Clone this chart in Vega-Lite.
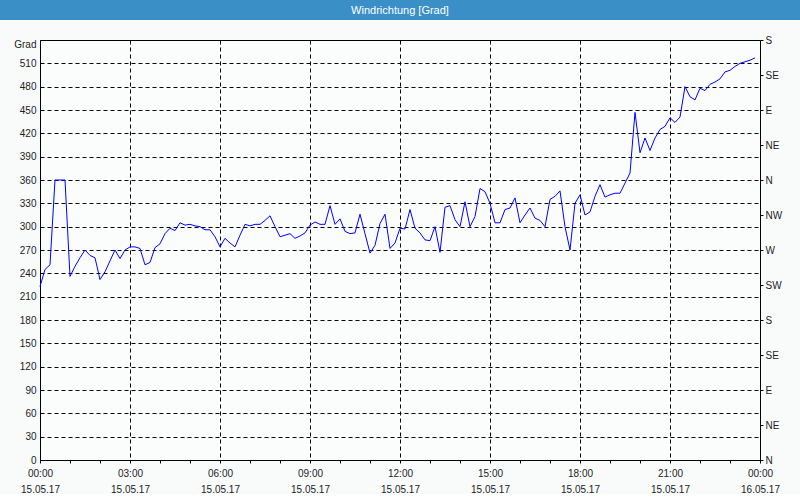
{
  "$schema": "https://vega.github.io/schema/vega-lite/v6.json",
  "padding": 0,
  "background": "#f8fbf9",
  "width": 720,
  "height": 420,
  "title": {
    "text": "Windrichtung [Grad]",
    "color": "#ffffff",
    "font": "Liberation Sans",
    "fontSize": 11,
    "fontWeight": "normal",
    "anchor": "middle",
    "frame": "group",
    "zindex": 1,
    "offset": 16,
    "dy": 32
  },
  "config": {
    "font": "Liberation Sans",
    "view": {"fill": "#fbfdfc", "stroke": "#000000", "strokeWidth": 1},
    "axis": {"labelFont": "Liberation Sans", "labelFontSize": 10, "labelColor": "#1c1c28", "titleFont": "Liberation Sans"}
  },
  "data": {"values": [
    {"t": "2017-05-15T00:00:00Z", "v": 223}, {"t": "2017-05-15T00:10:00Z", "v": 245}, {"t": "2017-05-15T00:20:00Z", "v": 251},
    {"t": "2017-05-15T00:30:00Z", "v": 360}, {"t": "2017-05-15T00:40:00Z", "v": 360}, {"t": "2017-05-15T00:50:00Z", "v": 360},
    {"t": "2017-05-15T01:00:00Z", "v": 236}, {"t": "2017-05-15T01:10:00Z", "v": 249}, {"t": "2017-05-15T01:20:00Z", "v": 260},
    {"t": "2017-05-15T01:30:00Z", "v": 270}, {"t": "2017-05-15T01:40:00Z", "v": 263}, {"t": "2017-05-15T01:50:00Z", "v": 260},
    {"t": "2017-05-15T02:00:00Z", "v": 232}, {"t": "2017-05-15T02:10:00Z", "v": 242}, {"t": "2017-05-15T02:20:00Z", "v": 256},
    {"t": "2017-05-15T02:30:00Z", "v": 270}, {"t": "2017-05-15T02:40:00Z", "v": 259}, {"t": "2017-05-15T02:50:00Z", "v": 270},
    {"t": "2017-05-15T03:00:00Z", "v": 274}, {"t": "2017-05-15T03:10:00Z", "v": 274}, {"t": "2017-05-15T03:20:00Z", "v": 272},
    {"t": "2017-05-15T03:30:00Z", "v": 251}, {"t": "2017-05-15T03:40:00Z", "v": 254}, {"t": "2017-05-15T03:50:00Z", "v": 273},
    {"t": "2017-05-15T04:00:00Z", "v": 278}, {"t": "2017-05-15T04:10:00Z", "v": 291}, {"t": "2017-05-15T04:20:00Z", "v": 298},
    {"t": "2017-05-15T04:30:00Z", "v": 295}, {"t": "2017-05-15T04:40:00Z", "v": 305}, {"t": "2017-05-15T04:50:00Z", "v": 302},
    {"t": "2017-05-15T05:00:00Z", "v": 303}, {"t": "2017-05-15T05:10:00Z", "v": 301}, {"t": "2017-05-15T05:20:00Z", "v": 300},
    {"t": "2017-05-15T05:30:00Z", "v": 296}, {"t": "2017-05-15T05:40:00Z", "v": 296}, {"t": "2017-05-15T05:50:00Z", "v": 287},
    {"t": "2017-05-15T06:00:00Z", "v": 274}, {"t": "2017-05-15T06:10:00Z", "v": 285}, {"t": "2017-05-15T06:20:00Z", "v": 279},
    {"t": "2017-05-15T06:30:00Z", "v": 274}, {"t": "2017-05-15T06:40:00Z", "v": 289}, {"t": "2017-05-15T06:50:00Z", "v": 303},
    {"t": "2017-05-15T07:00:00Z", "v": 301}, {"t": "2017-05-15T07:10:00Z", "v": 303}, {"t": "2017-05-15T07:20:00Z", "v": 303},
    {"t": "2017-05-15T07:30:00Z", "v": 308}, {"t": "2017-05-15T07:40:00Z", "v": 314}, {"t": "2017-05-15T07:50:00Z", "v": 300},
    {"t": "2017-05-15T08:00:00Z", "v": 287}, {"t": "2017-05-15T08:10:00Z", "v": 289}, {"t": "2017-05-15T08:20:00Z", "v": 291},
    {"t": "2017-05-15T08:30:00Z", "v": 285}, {"t": "2017-05-15T08:40:00Z", "v": 288}, {"t": "2017-05-15T08:50:00Z", "v": 292},
    {"t": "2017-05-15T09:00:00Z", "v": 302}, {"t": "2017-05-15T09:10:00Z", "v": 306}, {"t": "2017-05-15T09:20:00Z", "v": 303},
    {"t": "2017-05-15T09:30:00Z", "v": 303}, {"t": "2017-05-15T09:40:00Z", "v": 327}, {"t": "2017-05-15T09:50:00Z", "v": 303},
    {"t": "2017-05-15T10:00:00Z", "v": 310}, {"t": "2017-05-15T10:10:00Z", "v": 294}, {"t": "2017-05-15T10:20:00Z", "v": 291},
    {"t": "2017-05-15T10:30:00Z", "v": 292}, {"t": "2017-05-15T10:40:00Z", "v": 316}, {"t": "2017-05-15T10:50:00Z", "v": 291},
    {"t": "2017-05-15T11:00:00Z", "v": 266}, {"t": "2017-05-15T11:10:00Z", "v": 276}, {"t": "2017-05-15T11:20:00Z", "v": 304},
    {"t": "2017-05-15T11:30:00Z", "v": 316}, {"t": "2017-05-15T11:40:00Z", "v": 272}, {"t": "2017-05-15T11:50:00Z", "v": 279},
    {"t": "2017-05-15T12:00:00Z", "v": 298}, {"t": "2017-05-15T12:10:00Z", "v": 297}, {"t": "2017-05-15T12:20:00Z", "v": 322},
    {"t": "2017-05-15T12:30:00Z", "v": 298}, {"t": "2017-05-15T12:40:00Z", "v": 292}, {"t": "2017-05-15T12:50:00Z", "v": 283},
    {"t": "2017-05-15T13:00:00Z", "v": 282}, {"t": "2017-05-15T13:10:00Z", "v": 300}, {"t": "2017-05-15T13:20:00Z", "v": 267},
    {"t": "2017-05-15T13:30:00Z", "v": 325}, {"t": "2017-05-15T13:40:00Z", "v": 327}, {"t": "2017-05-15T13:50:00Z", "v": 309},
    {"t": "2017-05-15T14:00:00Z", "v": 300}, {"t": "2017-05-15T14:10:00Z", "v": 332}, {"t": "2017-05-15T14:20:00Z", "v": 300},
    {"t": "2017-05-15T14:30:00Z", "v": 313}, {"t": "2017-05-15T14:40:00Z", "v": 349}, {"t": "2017-05-15T14:50:00Z", "v": 345},
    {"t": "2017-05-15T15:00:00Z", "v": 330}, {"t": "2017-05-15T15:10:00Z", "v": 305}, {"t": "2017-05-15T15:20:00Z", "v": 305},
    {"t": "2017-05-15T15:30:00Z", "v": 322}, {"t": "2017-05-15T15:40:00Z", "v": 324}, {"t": "2017-05-15T15:50:00Z", "v": 337},
    {"t": "2017-05-15T16:00:00Z", "v": 305}, {"t": "2017-05-15T16:10:00Z", "v": 315}, {"t": "2017-05-15T16:20:00Z", "v": 324},
    {"t": "2017-05-15T16:30:00Z", "v": 311}, {"t": "2017-05-15T16:40:00Z", "v": 308}, {"t": "2017-05-15T16:50:00Z", "v": 300},
    {"t": "2017-05-15T17:00:00Z", "v": 335}, {"t": "2017-05-15T17:10:00Z", "v": 339}, {"t": "2017-05-15T17:20:00Z", "v": 346},
    {"t": "2017-05-15T17:30:00Z", "v": 300}, {"t": "2017-05-15T17:40:00Z", "v": 270}, {"t": "2017-05-15T17:50:00Z", "v": 330},
    {"t": "2017-05-15T18:00:00Z", "v": 341}, {"t": "2017-05-15T18:10:00Z", "v": 315}, {"t": "2017-05-15T18:20:00Z", "v": 319},
    {"t": "2017-05-15T18:30:00Z", "v": 339}, {"t": "2017-05-15T18:40:00Z", "v": 354}, {"t": "2017-05-15T18:50:00Z", "v": 338},
    {"t": "2017-05-15T19:00:00Z", "v": 341}, {"t": "2017-05-15T19:10:00Z", "v": 343}, {"t": "2017-05-15T19:20:00Z", "v": 343},
    {"t": "2017-05-15T19:30:00Z", "v": 356}, {"t": "2017-05-15T19:40:00Z", "v": 369}, {"t": "2017-05-15T19:50:00Z", "v": 447},
    {"t": "2017-05-15T20:00:00Z", "v": 395}, {"t": "2017-05-15T20:10:00Z", "v": 414}, {"t": "2017-05-15T20:20:00Z", "v": 398},
    {"t": "2017-05-15T20:30:00Z", "v": 414}, {"t": "2017-05-15T20:40:00Z", "v": 425}, {"t": "2017-05-15T20:50:00Z", "v": 429},
    {"t": "2017-05-15T21:00:00Z", "v": 440}, {"t": "2017-05-15T21:10:00Z", "v": 434}, {"t": "2017-05-15T21:20:00Z", "v": 441},
    {"t": "2017-05-15T21:30:00Z", "v": 480}, {"t": "2017-05-15T21:40:00Z", "v": 467}, {"t": "2017-05-15T21:50:00Z", "v": 463},
    {"t": "2017-05-15T22:00:00Z", "v": 478}, {"t": "2017-05-15T22:10:00Z", "v": 475}, {"t": "2017-05-15T22:20:00Z", "v": 483},
    {"t": "2017-05-15T22:30:00Z", "v": 486}, {"t": "2017-05-15T22:40:00Z", "v": 490}, {"t": "2017-05-15T22:50:00Z", "v": 499},
    {"t": "2017-05-15T23:00:00Z", "v": 501}, {"t": "2017-05-15T23:10:00Z", "v": 506}, {"t": "2017-05-15T23:20:00Z", "v": 510},
    {"t": "2017-05-15T23:30:00Z", "v": 512}, {"t": "2017-05-15T23:40:00Z", "v": 514}, {"t": "2017-05-15T23:50:00Z", "v": 517}
  ]},
  "encoding": {
    "x": {
      "field": "t",
      "type": "temporal",
      "scale": {"type": "utc", "domain": [{"year": 2017, "month": 5, "date": 15, "utc": true}, {"year": 2017, "month": 5, "date": 16, "utc": true}], "nice": false},
      "axis": {
        "title": null,
        "tickCount": 24,
        "labelExpr": "utchours(datum.value) % 3 == 0 ? [utcFormat(datum.value, '%H:%M'), utcFormat(datum.value, '%d.%m.%y')] : ''",
        "labelFlush": false,
        "labelOverlap": false,
        "labelBound": false,
        "labelPadding": 5,
        "labelLineHeight": 16,
        "tickSize": 3,
        "tickColor": "#000000",
        "domainColor": "#000000",
        "grid": true,
        "gridColor": "#000000",
        "gridDash": [4, 3],
        "gridOpacity": {"condition": {"test": "utchours(datum.value) % 3 == 0", "value": 1}, "value": 0}
      }
    }
  },
  "layer": [
    {
      "mark": {"type": "line", "color": "#0000ff", "strokeWidth": 1},
      "encoding": {
        "y": {
          "field": "v",
          "type": "quantitative",
          "scale": {"domain": [0, 540], "nice": false, "zero": true},
          "axis": {
            "orient": "left",
            "values": [0, 30, 60, 90, 120, 150, 180, 210, 240, 270, 300, 330, 360, 390, 420, 450, 480, 510],
            "title": "Grad",
            "titleAngle": 0,
            "titleAlign": "right",
            "titleBaseline": "middle",
            "titleFontWeight": "normal",
            "titleFontSize": 10,
            "titleColor": "#1c1c28",
            "titleX": -4,
            "titleY": 4,
            "ticks": false,
            "labelPadding": 4,
            "domain": false,
            "grid": true,
            "gridColor": "#000000",
            "gridDash": [4, 3],
            "gridOpacity": 1,
            "minExtent": 40,
            "maxExtent": 40
          }
        }
      }
    },
    {
      "mark": {"type": "line", "strokeOpacity": 0},
      "encoding": {
        "y": {
          "field": "v",
          "type": "quantitative",
          "axis": {
            "orient": "right",
            "values": [0, 45, 90, 135, 180, 225, 270, 315, 360, 405, 450, 495, 540],
            "labelExpr": "['N','NE','E','SE','S','SW','W','NW'][round(datum.value / 45) % 8]",
            "title": null,
            "grid": false,
            "domain": false,
            "ticks": true,
            "tickSize": 3,
            "tickColor": "#000000",
            "labelPadding": 2,
            "minExtent": 40,
            "maxExtent": 40
          }
        },
        "color": {
          "field": "v",
          "type": "quantitative",
          "scale": {"range": ["#3b8fc7", "#3b8fc7"]},
          "legend": {
            "orient": "none",
            "legendX": -40,
            "legendY": -40,
            "direction": "horizontal",
            "gradientLength": 800,
            "gradientThickness": 20,
            "gradientStrokeWidth": 0,
            "title": null,
            "padding": 0,
            "labelExpr": "''",
            "labelOpacity": 0,
            "tickCount": 2
          }
        }
      }
    }
  ],
  "resolve": {"axis": {"y": "independent"}}
}
